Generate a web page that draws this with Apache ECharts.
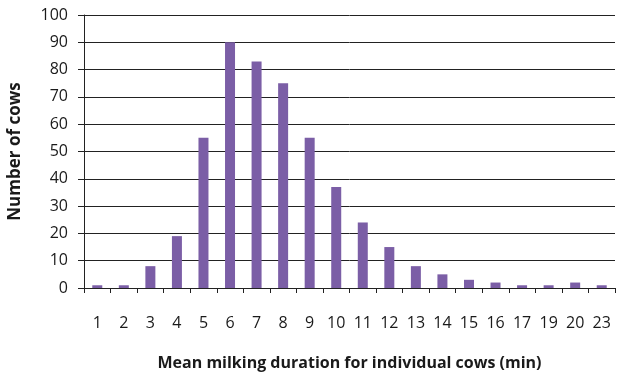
<!DOCTYPE html>
<html>
<head>
<meta charset="utf-8">
<script src="https://cdn.jsdelivr.net/npm/echarts@6/dist/echarts.min.js"></script>
<style>
  html, body { margin: 0; padding: 0; background: #fff; }
  #chart { width: 620px; height: 373px; }
</style>
</head>
<body>
<div id="chart"></div>
<script>
// Mean milking duration categories (minutes)
const durations = ['1','2','3','4','5','6','7','8','9','10','11','12','13','14','15','16','17','19','20','23'];
// Number of cows per duration
const cowCounts = [1, 1, 8, 19, 55, 90, 83, 75, 55, 37, 24, 15, 8, 5, 3, 2, 1, 1, 2, 1];

const chart = echarts.init(document.getElementById('chart'), null, { renderer: 'canvas' });
const fontFam = '"Open Sans", "Liberation Sans", sans-serif';

chart.setOption({
  animation: false,
  backgroundColor: '#ffffff',
  grid: { left: 84, right: 5, top: 15, bottom: 85, containLabel: false, outerBoundsMode: 'none' },
  xAxis: {
    type: 'category',
    data: durations,
    name: 'Mean milking duration for individual cows (min)',
    nameLocation: 'middle',
    nameGap: 67,
    nameTextStyle: { fontFamily: fontFam, fontSize: 16, fontWeight: 'bold', color: '#1a1a1a' },
    axisLine: { lineStyle: { color: '#222', width: 1 } },
    axisTick: { show: true, length: 5, alignWithLabel: false, lineStyle: { color: '#222' } },
    axisLabel: { fontFamily: fontFam, fontSize: 16, color: '#1a1a1a', margin: 27 }
  },
  yAxis: {
    type: 'value',
    min: 0, max: 100, interval: 10,
    name: 'Number of cows',
    nameLocation: 'middle',
    nameGap: 60,
    nameRotate: 90,
    nameTextStyle: { fontFamily: fontFam, fontSize: 17, fontWeight: 'bold', color: '#1a1a1a' },
    axisLine: { show: true, lineStyle: { color: '#222', width: 1 } },
    axisTick: { show: true, length: 6, lineStyle: { color: '#222' } },
    axisLabel: { fontFamily: fontFam, fontSize: 16, color: '#1a1a1a', margin: 16 },
    splitLine: { lineStyle: { color: '#222', width: 1 } }
  },
  series: [{
    type: 'bar',
    data: cowCounts,
    barWidth: 10,
    itemStyle: { color: '#7b5ea6' }
  }]
});
</script>
</body>
</html>
